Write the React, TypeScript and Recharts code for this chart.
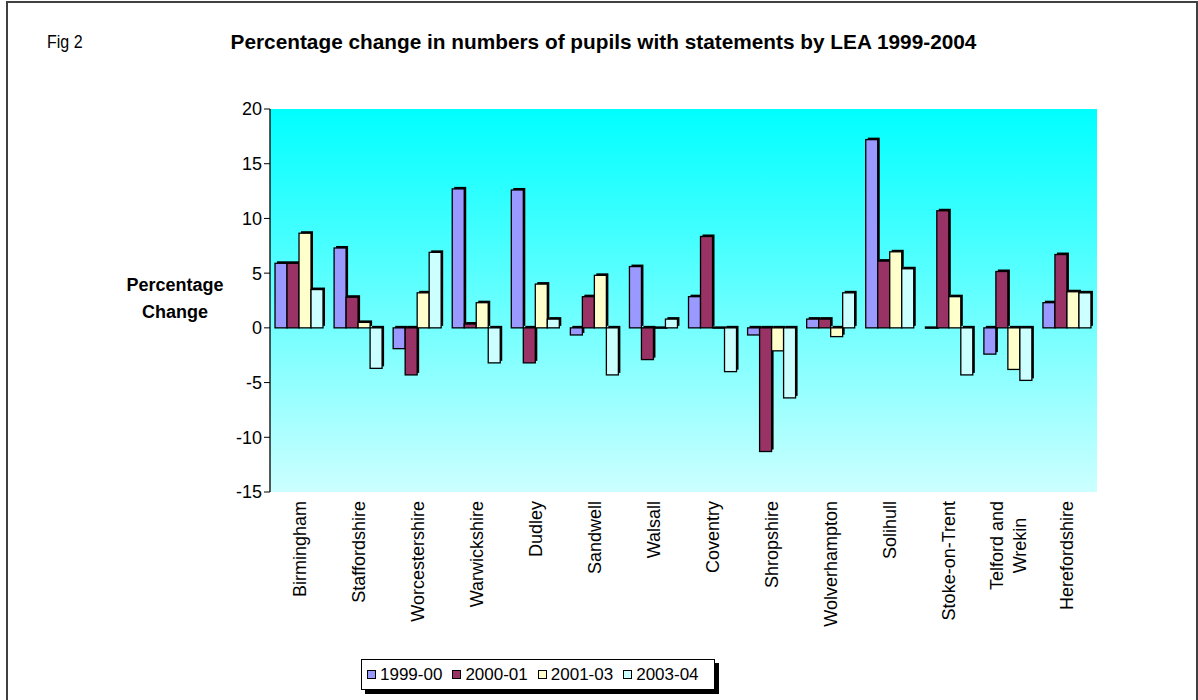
import React from 'react';
import { BarChart, Bar, XAxis, YAxis, CartesianGrid } from 'recharts';

const categories = ['Birmingham', 'Staffordshire', 'Worcestershire', 'Warwickshire', 'Dudley', 'Sandwell', 'Walsall', 'Coventry', 'Shropshire', 'Wolverhampton', 'Solihull', 'Stoke-on-Trent', 'Telford and\nWrekin', 'Herefordshire'];
const s1999 = [5.9, 7.3, -1.9, 12.7, 12.6, -0.65, 5.6, 2.85, -0.65, 0.8, 17.2, 0, -2.4, 2.3];
const s2000 = [5.9, 2.8, -4.3, 0.35, -3.2, 2.85, -2.9, 8.35, -11.3, 0.8, 6.1, 10.7, 5.15, 6.7];
const s2001 = [8.65, 0.5, 3.2, 2.3, 4.0, 4.8, 0, 0, -2.1, -0.8, 6.95, 2.85, -3.8, 3.3];
const s2003 = [3.5, -3.7, 6.9, -3.2, 0.8, -4.3, 0.8, -4.0, -6.4, 3.2, 5.4, -4.3, -4.8, 3.2];
const seriesNames = ['1999-00', '2000-01', '2001-03', '2003-04'];
const seriesColors = ['#9999FF', '#993366', '#FFFFCC', '#CCFFFF'];
const yTicks = [-15, -10, -5, 0, 5, 10, 15, 20];

const seriesValues = [s1999, s2000, s2001, s2003];
const data = categories.map((c, i) => {
  const row: any = { name: c };
  seriesNames.forEach((s, k) => { row[s] = seriesValues[k][i]; });
  return row;
});

const FONT = '"Liberation Sans", Arial, sans-serif';

let ctx: CanvasRenderingContext2D | null = null;
function measure(text: string, font: string) {
  if (!ctx) ctx = document.createElement('canvas').getContext('2d');
  if (!ctx) return text.length * 9;
  ctx.font = font;
  return ctx.measureText(text).width;
}

const Bar3D = (props: any) => {
  const { x, y, width, height, fill } = props;
  const top = Math.min(y, y + height);
  const h = Math.abs(height);
  if (h < 0.8) {
    return <rect x={x} y={top - 1.5} width={width + 2} height={2.5} fill="#000" />;
  }
  return (
    <g>
      <rect x={x + 2} y={top - 2} width={width} height={h} fill="#000" />
      <rect x={x} y={top} width={width} height={h} fill={fill} stroke="#000" strokeWidth={1.3} />
    </g>
  );
};

const XTick = (props: any) => {
  const { x, y, payload } = props;
  const lines = String(payload.value).split('\n');
  const fs = 18;
  const top = y + 9;
  if (lines.length === 1) {
    return (
      <text transform={`translate(${x},${top}) rotate(-90)`} textAnchor="end" dominantBaseline="central" fontSize={fs} fontFamily={FONT} fill="#000">
        {lines[0]}
      </text>
    );
  }
  const maxW = Math.max(...lines.map((l) => measure(l, `${fs}px ${FONT}`)));
  const lh = 23;
  const n = lines.length;
  return (
    <g>
      {lines.map((l, i) => (
        <text key={i} transform={`translate(${x + (i - (n - 1) / 2) * lh},${top + maxW / 2}) rotate(-90)`} textAnchor="middle" dominantBaseline="central" fontSize={fs} fontFamily={FONT} fill="#000">
          {l}
        </text>
      ))}
    </g>
  );
};

export default function App() {
  return (
    <div style={{ position: 'absolute', left: 0, top: 0, width: 1198, height: 700, overflow: 'hidden', background: '#fff', fontFamily: FONT }}>
      <svg width={0} height={0} style={{ position: 'absolute' }}>
        <defs>
          <linearGradient id="plotBg" x1="0" y1="0" x2="0" y2="1">
            <stop offset="0%" stopColor="#00FFFF" />
            <stop offset="100%" stopColor="#CCFFFF" />
          </linearGradient>
        </defs>
      </svg>
      <div style={{ position: 'absolute', left: 6, top: 1, width: 1188, height: 720, border: '2px solid #404040', borderBottom: 'none' }} />
      <div style={{ position: 'absolute', left: 47, top: 32, fontSize: 16, lineHeight: '18px', color: '#000', transform: 'scale(1, 1.12)', transformOrigin: 'left top' }}>Fig 2</div>
      <div style={{ position: 'absolute', left: 0, width: 1207, top: 29, textAlign: 'center', fontSize: 20.8, fontWeight: 'bold', lineHeight: '26px', color: '#000' }}>
        Percentage change in numbers of pupils with statements by LEA 1999-2004
      </div>
      <div style={{ position: 'absolute', left: 95, width: 160, top: 272, textAlign: 'center', fontSize: 18, fontWeight: 'bold', lineHeight: '27px', color: '#000' }}>
        Percentage<br />Change
      </div>
      <div style={{ position: 'absolute', left: 0, top: 0 }}>
        <BarChart width={1198} height={700} data={data} margin={{ top: 109, right: 101, bottom: 0, left: 0 }} barCategoryGap="8.5%" barGap={0}>
          <CartesianGrid horizontal={false} vertical={false} fill="url(#plotBg)" fillOpacity={1} />
          <XAxis dataKey="name" height={208} axisLine={false} tickLine={false} tickSize={0} tickMargin={0} interval={0} tick={<XTick />} />
          <YAxis width={270} domain={[-15, 20]} ticks={yTicks} interval={0} axisLine={{ stroke: '#000', strokeWidth: 1.3 }} tickLine={{ stroke: '#000' }} tickSize={6} tickMargin={2} tick={{ fill: '#000', fontSize: 18, fontFamily: FONT }} />
          {seriesNames.map((s, k) => (
            <Bar key={s} dataKey={s} fill={seriesColors[k]} isAnimationActive={false} shape={<Bar3D />} />
          ))}
        </BarChart>
      </div>
      <div style={{ position: 'absolute', left: 361, top: 659, width: 354, height: 31, border: '1px solid #000', boxShadow: '4px 4px 0 #000', background: '#fff', display: 'flex', alignItems: 'center', boxSizing: 'border-box', paddingLeft: 5 }}>
        {seriesNames.map((s, k) => (
          <div key={s} style={{ display: 'flex', alignItems: 'center', marginRight: 10 }}>
            <span style={{ display: 'inline-block', width: 9, height: 9, border: '1px solid #000', background: seriesColors[k], marginRight: 4, boxSizing: 'border-box' }} />
            <span style={{ fontSize: 17, color: '#000', lineHeight: '20px' }}>{s}</span>
          </div>
        ))}
      </div>
    </div>
  );
}
